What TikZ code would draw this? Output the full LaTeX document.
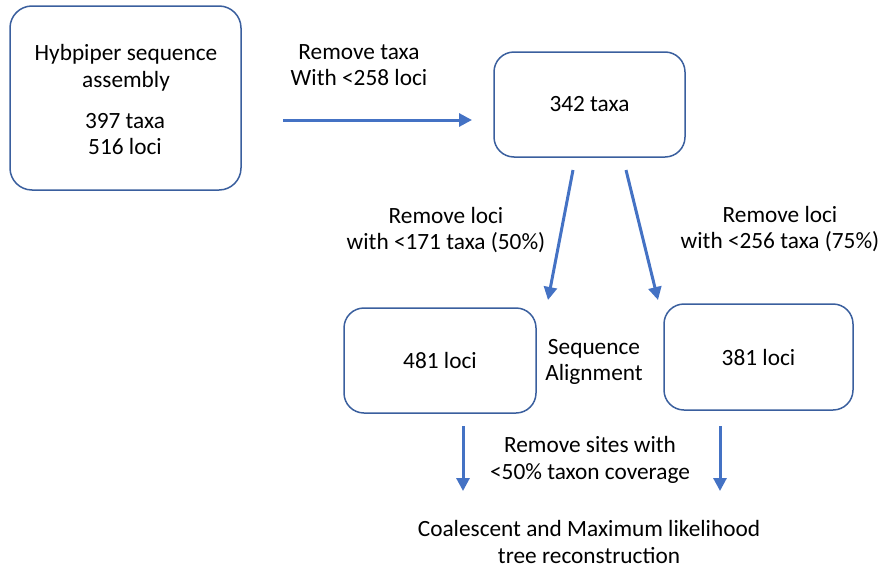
\documentclass[tikz,border=0pt]{standalone}
\usepackage{fontspec}
\setmainfont{Carlito}
\usetikzlibrary{arrows.meta}
\definecolor{boxc}{HTML}{3A5F9E}
\definecolor{arrc}{HTML}{4472C4}
\tikzset{
  box/.style={draw=boxc, line width=1.5pt, rounded corners=22pt, fill=white},
  arr/.style={draw=arrc, line width=3pt, -{Triangle[length=13pt,width=13pt]}},
  lbl/.style={align=center, font=\fontsize{23.3}{26.5}\selectfont, inner sep=0pt},
}
\begin{document}
\begin{tikzpicture}[x=1pt,y=-1pt]
\useasboundingbox (0,0) rectangle (883,573);
% boxes
\draw[box] (10,6) rectangle (241,190);
\node[lbl] (t1) at (126,68) {Hybpiper sequence\\assembly};
\node[lbl] (t1b) at (125,134) {397 taxa\\516 loci};
\node[box, minimum width=191pt, minimum height=105pt, rounded corners=20pt, lbl] (b2) at (589.5,104.5) {342 taxa};
\node[box, minimum width=192pt, minimum height=105pt, rounded corners=20pt, lbl] (b3) at (440,360.5) {481 loci};
\node[box, minimum width=189pt, minimum height=106pt, rounded corners=20pt, lbl] (b4) at (758.5,357) {381 loci};
% coordinates
\coordinate (a1s) at (283,120); \coordinate (a1e) at (472,120);
\coordinate (a2s) at (573,170); \coordinate (a2e) at (548,300);
\coordinate (a3s) at (626,170); \coordinate (a3e) at (658,300);
\coordinate (a4s) at (463,426); \coordinate (a4e) at (463,491);
\coordinate (a5s) at (720,426); \coordinate (a5e) at (720,491);
\draw[arr] (a1s) -- (a1e);
\draw[arr] (a2s) -- (a2e);
\draw[arr] (a3s) -- (a3e);
\draw[arr] (a4s) -- (a4e);
\draw[arr] (a5s) -- (a5e);
% labels
\node[lbl] (l1) at (359,65) {Remove taxa\\With <258 loci};
\node[lbl] (l2) at (446,230) {Remove loci\\with <171 taxa (50\%)};
\node[lbl] (l3) at (780,229) {Remove loci\\with <256 taxa (75\%)};
\node[lbl] (l4) at (594,362) {Sequence\\ Alignment};
\node[lbl] (l5) at (590,460) {Remove sites with\\<50\% taxon coverage};
\node[lbl] (l6) at (589,542) {Coalescent and Maximum likelihood\\tree reconstruction};
\end{tikzpicture}
\end{document}
